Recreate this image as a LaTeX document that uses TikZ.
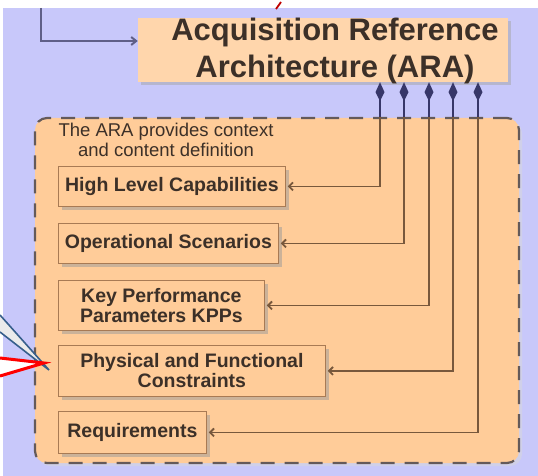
\documentclass[tikz,border=0pt]{standalone}
\usepackage{fontspec}
\setmainfont{Liberation Sans}
\usetikzlibrary{arrows.meta,shadows,positioning}
\definecolor{slidebg}{RGB}{200,200,250}
\definecolor{araorange}{RGB}{255,214,172}
\definecolor{boxorange}{RGB}{255,204,153}
\definecolor{boxedge}{RGB}{168,122,84}
\definecolor{inkbrown}{RGB}{60,48,40}
\definecolor{tienavy}{RGB}{55,55,105}
\definecolor{linkbrown}{RGB}{120,88,60}
\definecolor{dashgrey}{RGB}{100,90,90}
\definecolor{calloutblue}{RGB}{55,95,140}
\tikzset{
	arabox/.style={
		rectangle,
		fill=araorange,
		minimum width=370pt,
		minimum height=64pt,
		drop shadow={shadow xshift=3pt,shadow yshift=-3pt,fill=black!35},
	},
	aratext/.style={
		align=center,
		text=inkbrown,
		font=\fontsize{31}{37}\selectfont\bfseries,
	},
	area/.style={
		rectangle,
		rounded corners=12pt,
		draw=dashgrey,
		line width=2.2pt,
		dash pattern=on 14pt off 10pt,
		fill=boxorange,
		drop shadow={shadow xshift=3pt,shadow yshift=-3pt,fill=black!15},
	},
	note/.style={
		align=center,
		text=inkbrown,
		font=\fontsize{18.5}{20}\selectfont,
	},
	item/.style={
		rectangle,
		anchor=north west,
		draw=boxedge,
		thick,
		fill=boxorange,
		align=center,
		text=inkbrown,
		font=\fontsize{19.5}{20}\selectfont\bfseries,
		drop shadow={shadow xshift=4pt,shadow yshift=-4pt,fill=black!40},
	},
	feed/.style={
		-{Straight Barb[length=5pt,width=8pt]},
		line width=2pt,
		draw=tienavy!80,
	},
	tie/.style={
		{Kite[length=19pt,width=9pt,inset=9pt]}-,
		line width=1.6pt,
		draw=tienavy,
	},
	link/.style={
		-{Straight Barb[length=4pt,width=8pt]},
		line width=1.8pt,
		draw=linkbrown,
		shorten >=2pt,
	},
}
\begin{document}
\begin{tikzpicture}[x=1pt,y=-1pt]
	\useasboundingbox (0,0) rectangle (538,476);
	\fill[white] (0,0) rectangle (538,476);
	\fill[slidebg] (3,8) rectangle (538,476);
	\draw[red!75!black,line width=1.8pt] (276,9) -- (281,2);

	\coordinate (from) at (41,8);
	\node[arabox] (ara) at (323,50) {};
	\node[aratext] (aralabel) at (335,51) {Acquisition Reference\\Architecture (ARA)};
	\draw[feed] (from) |- ([yshift=9pt]ara.west);

	\node[area,minimum width=484pt,minimum height=345pt] (area) at (277,290.5) {};
	\node[note] (note) at (166,140) {The ARA provides context\\and content definition};

	\node[item,minimum width=227pt,minimum height=40pt] (hlc) at (58,166) {High Level Capabilities};
	\node[item,minimum width=220pt,minimum height=40pt] (ops) at (58,223) {Operational Scenarios};
	\node[item,minimum width=206pt,minimum height=50pt] (kpp) at (58,280) {Key Performance\\Parameters KPPs};
	\node[item,minimum width=267pt,minimum height=51pt] (pfc) at (58,345) {Physical and Functional\\Constraints};
	\node[item,minimum width=148pt,minimum height=42pt] (req) at (58,411) {Requirements};

	\foreach \tapx/\target [count=\i] in {380/hlc,404/ops,429/kpp,453/pfc,478/req}{
		\coordinate (tap\i) at (\tapx,0);
		\draw[tie] (ara.south -| tap\i) -- (area.north -| tap\i);
		\draw[link] (area.north -| tap\i) |- (\target.east);
	}

	% callout wedges coming in from the left
	\fill[black!8] (0,315) -- (49,370) -- (0,332) -- cycle;
	\draw[calloutblue,line width=1.6pt] (0,315) -- (49,370) -- (0,332);
	\fill[white] (0,358) -- (44,363) -- (0,376) -- cycle;
	\draw[red,line width=3pt] (0,358) -- (44,363) -- (0,376);
\end{tikzpicture}
\end{document}
